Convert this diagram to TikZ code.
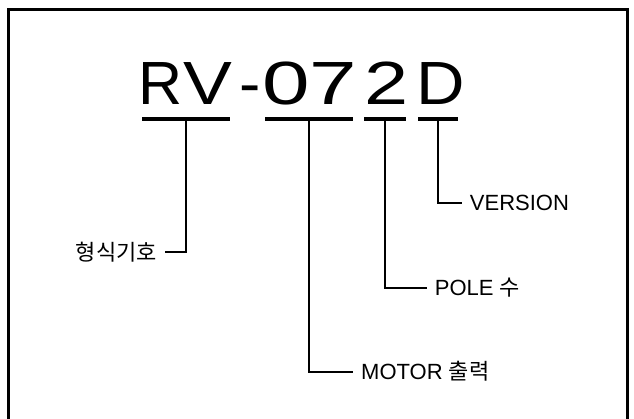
\documentclass[tikz,border=0pt]{standalone}
\usepackage{fontspec}
\setmainfont{Liberation Sans}
\newfontfamily\kr{Noto Sans CJK KR}
\begin{document}
\begin{tikzpicture}[x=1pt,y=-1pt,
  glyph/.style={anchor=base, inner sep=0pt, font=\fontsize{61}{61}\selectfont},
  ubar/.style={fill=black, inner sep=0pt, minimum height=3.7pt},
  conn/.style={line width=2pt},
  lab/.style={inner xsep=8pt, inner ysep=0pt, font=\fontsize{22}{22}\selectfont},
  frame/.style={line width=2.2pt}]
\useasboundingbox (0,0) rectangle (634,419);
\draw[frame] (8.5,422) -- (8.5,9.5) -- (627.5,9.5) -- (627.5,422);
% big code
\node[glyph, xscale=1.0]  (gR) at (160.5,105) {R};
\node[glyph, xscale=1.2]  (gV) at (207.5,105) {V};
\node[glyph, xscale=1.05] (gH) at (250,105) {-};
\node[glyph, xscale=1.4]  (g0) at (286.5,105) {0};
\node[glyph, xscale=1.4]  (g7) at (333.5,105) {7};
\node[glyph, xscale=1.3]  (g2) at (387,105) {2};
\node[glyph, xscale=1.1]  (gD) at (441,105) {D};
% underlines
\node[ubar, minimum width=88.3pt] (uRV) at (185.85,119) {};
\node[ubar, minimum width=87.7pt] (u072) at (308.85,119) {};
\node[ubar, minimum width=42pt] (u2) at (385,119) {};
\node[ubar, minimum width=40pt] (uD) at (438.3,119) {};
% labels
\node[lab, anchor=east] (lRV) at (165,251.7) {\kr 형식기호};
\node[lab, anchor=west] (l072) at (353,371.7) {MOTOR {\kr 출력}};
\node[lab, anchor=west] (l2) at (426.7,288) {POLE {\kr 수}};
\node[lab, anchor=west] (lD) at (461.7,203.3) {VERSION};
% connectors
\draw[conn] (uRV.south) |- (lRV.east);
\draw[conn] (u072.south) |- (l072.west);
\draw[conn] (u2.south) |- (l2.west);
\draw[conn] (uD.south) |- (lD.west);
\end{tikzpicture}
\end{document}
